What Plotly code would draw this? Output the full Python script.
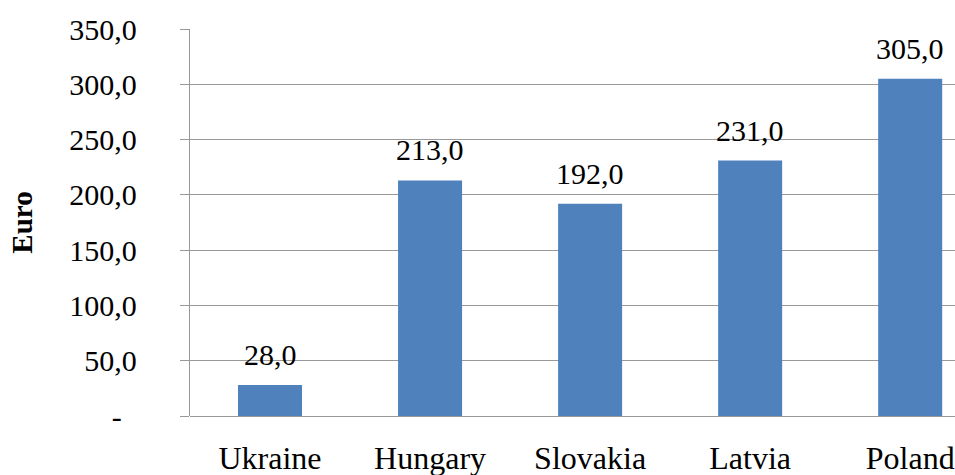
import plotly.graph_objects as go

countries = ["Ukraine", "Hungary", "Slovakia", "Latvia", "Poland"]
values = [28.0, 213.0, 192.0, 231.0, 305.0]
y_ticks = [0, 50, 100, 150, 200, 250, 300, 350]
y_tick_labels = ["-\u2007", "50,0", "100,0", "150,0", "200,0", "250,0", "300,0", "350,0"]
value_labels = ["28,0", "213,0", "192,0", "231,0", "305,0"]

FONT = "Liberation Serif, Times New Roman, serif"

fig = go.Figure()
fig.add_trace(go.Bar(
    x=countries, y=values, width=0.4,
    marker=dict(color="#4F81BD", line=dict(width=0)),
    hoverinfo="skip",
))

for c, v, t in zip(countries, values, value_labels):
    fig.add_annotation(x=c, y=v, text=t, showarrow=False, yanchor="bottom",
                       yshift=12, font=dict(family=FONT, size=30, color="black"))

fig.update_layout(
    width=955, height=475,
    margin=dict(l=190, r=0, t=29, b=59, autoexpand=False),
    paper_bgcolor="white", plot_bgcolor="white",
    showlegend=False,
    font=dict(family=FONT, size=30, color="black"),
    xaxis=dict(
        type="category", range=[-0.5, 4.28], automargin=False,
        showgrid=False, showline=False, zeroline=False,
        ticks="", ticklabelstandoff=20,
        tickfont=dict(family=FONT, size=32, color="black"),
    ),
    yaxis=dict(
        range=[0, 350], tickvals=y_ticks, ticktext=y_tick_labels, automargin=False,
        showgrid=True, gridcolor="#999999", gridwidth=1.3,
        showline=True, linecolor="#999999", linewidth=1.3,
        zeroline=True, zerolinecolor="#999999", zerolinewidth=1.3,
        ticks="outside", ticklen=9, tickcolor="#999999", tickwidth=1.3,
        ticklabelstandoff=37,
        tickfont=dict(family=FONT, size=30, color="black"),
        title=dict(text="<b>Euro</b>", font=dict(family=FONT, size=29, color="black"), standoff=28),
    ),
)

fig.write_html("out.html")
